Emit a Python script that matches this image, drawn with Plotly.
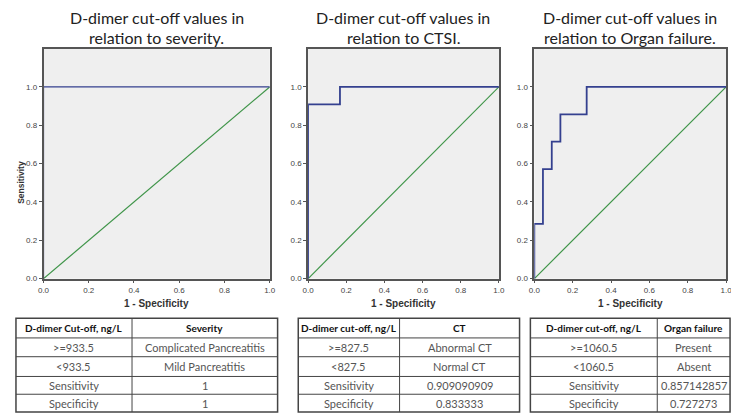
import plotly.graph_objects as go

# ROC curves (1 - specificity, sensitivity)
fpr_severity = [0, 0, 1]
tpr_severity = [0, 1, 1]
fpr_ctsi = [0, 0, 0.167, 1]
tpr_ctsi = [0, 0.909, 1, 1]
fpr_organ = [0, 0, 0.045, 0.091, 0.136, 0.273, 1]
tpr_organ = [0, 0.286, 0.571, 0.714, 0.857, 1, 1]
ref_line = [0, 1]

title_line1 = "D-dimer cut-off values in"
title_line2 = ["relation to severity.", "relation to CTSI.",
               "relation to Organ failure."]
tick_vals = [0, 0.2, 0.4, 0.6, 0.8, 1.0]
tick_text = ["0.0", "0.2", "0.4", "0.6", "0.8", "1.0"]

table_headers = [
    ["D-dimer Cut-off, ng/L", "Severity"],
    ["D-dimer cut-off, ng/L", "CT"],
    ["D-dimer cut-off, ng/L", "Organ failure"],
]
col1_severity = [">=933.5", "<933.5", "Sensitivity", "Specificity"]
col2_severity = ["Complicated Pancreatitis", "Mild Pancreatitis", "1", "1"]
col1_ct = [">=827.5", "<827.5", "Sensitivity", "Specificity"]
col2_ct = ["Abnormal CT", "Normal CT", "0.909090909", "0.833333"]
col1_organ = [">=1060.5", "<1060.5", "Sensitivity", "Specificity"]
col2_organ = ["Present", "Absent", "0.857142857", "0.727273"]

# page has an 8px body margin, so figure is drawn 8px smaller and shifted
OFF = 8
W, H = 739 - OFF, 419 - OFF


def px(x):
    return (x - OFF) / W


def py(y):
    return 1 - (y - OFF) / H


BLUE = "#34408f"
GREEN = "#3e9448"
panels = [(38, 268), (307, 501), (537, 732)]
top_px, bot_px = 49, 282

fig = go.Figure()
curves = [
    (fpr_severity, tpr_severity, 1.2),
    (fpr_ctsi, tpr_ctsi, 1.8),
    (fpr_organ, tpr_organ, 1.8),
]
for i, ((fx, ty, lw), (l, r)) in enumerate(zip(curves, panels)):
    n = "" if i == 0 else str(i + 1)
    fig.add_trace(go.Scatter(x=ref_line, y=ref_line, mode="lines",
                             line=dict(color=GREEN, width=1.2),
                             xaxis="x" + n, yaxis="y" + n, showlegend=False))
    fig.add_trace(go.Scatter(x=fx, y=ty, mode="lines", line_shape="hv",
                             line=dict(color=BLUE, width=lw),
                             xaxis="x" + n, yaxis="y" + n, showlegend=False))
    axis_common = dict(
        showline=True, mirror=True, linecolor="#555", linewidth=1.5,
        showgrid=False, zeroline=False, ticks="outside", ticklen=3,
        tickcolor="#555", tickvals=tick_vals, ticktext=tick_text,
        tickfont=dict(family="Liberation Sans", size=8, color="#444"),
    )
    fig.layout["xaxis" + n] = dict(axis_common, domain=[px(l), px(r)],
                                   range=[0, 1], anchor="y" + n)
    fig.layout["yaxis" + n] = dict(axis_common, domain=[py(bot_px), py(top_px)],
                                   range=[0, 1.2], anchor="x" + n)
    for txt, yc in [(title_line1, 18), (title_line2[i], 38)]:
        fig.add_annotation(text=txt, x=px((l + r) / 2), y=py(yc),
                           xref="paper", yref="paper", xanchor="center",
                           yanchor="middle", showarrow=False,
                           font=dict(family="Lato", size=16, color="#222"))
    fig.add_annotation(text="<b>1 - Specificity</b>", x=px((l + r) / 2),
                       y=py(307), xref="paper", yref="paper",
                       xanchor="center", yanchor="middle", showarrow=False,
                       font=dict(family="Liberation Sans", size=10, color="#333"))

fig.add_annotation(text="<b>Sensitivity</b>", x=0, y=py(185),
                   xref="paper", yref="paper", textangle=-90,
                   xanchor="left", yanchor="middle", showarrow=False,
                   font=dict(family="Liberation Sans", size=8.5, color="#333"))

# tables drawn as ruled boxes: (left, divider, right) and row edges
rows_px = [322, 342, 361, 381, 399, 418]
tables = [
    ((10, 128, 276), table_headers[0], col1_severity, col2_severity),
    ((297, 400, 522), table_headers[1], col1_ct, col2_ct),
    ((533, 662, 736), table_headers[2], col1_organ, col2_organ),
]
line_style = dict(color="#444", width=1)
for (l, d, r), hdr, c1, c2 in tables:
    fig.add_shape(type="rect", xref="paper", yref="paper",
                  x0=px(l), x1=px(r), y0=py(rows_px[-1] - 1), y1=py(rows_px[0]),
                  line=dict(color="#444", width=1.5), fillcolor="white",
                  layer="below")
    fig.add_shape(type="line", xref="paper", yref="paper",
                  x0=px(d), x1=px(d), y0=py(rows_px[-1] - 1), y1=py(rows_px[0]),
                  line=line_style)
    for y in rows_px[1:-1]:
        fig.add_shape(type="line", xref="paper", yref="paper",
                      x0=px(l), x1=px(r), y0=py(y), y1=py(y), line=line_style)
    col_text = [[hdr[0]] + c1, [hdr[1]] + c2]
    for cx, vals in zip([(l + d) / 2, (d + r) / 2], col_text):
        for k, v in enumerate(vals):
            yc = (rows_px[k] + rows_px[k + 1]) / 2
            if k == 0:
                txt = "<b>%s</b>" % v
                font = dict(family="Lato", size=10, color="#111")
            else:
                txt = v
                font = dict(family="Lato", size=11, color="#555")
            fig.add_annotation(text=txt, x=px(cx), y=py(yc), xref="paper",
                               yref="paper", xanchor="center",
                               yanchor="middle", showarrow=False, font=font)

fig.update_layout(
    width=W, height=H, margin=dict(l=0, r=0, t=0, b=0),
    paper_bgcolor="white", plot_bgcolor="#efefef",
    showlegend=False,
)

fig.write_html("out.html")
